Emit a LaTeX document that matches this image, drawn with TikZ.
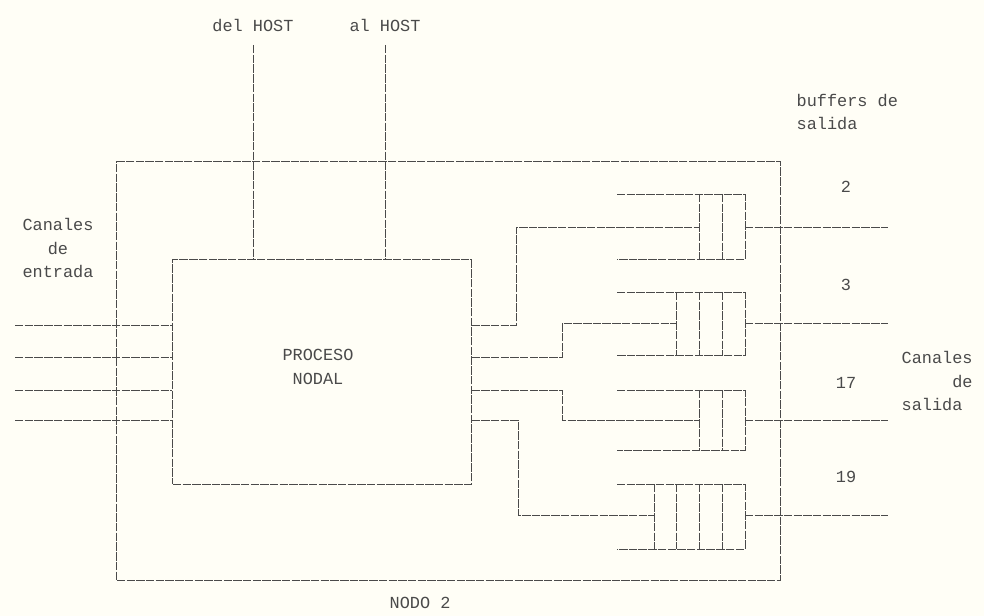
\documentclass[tikz,border=0pt]{standalone}
\usepackage{fontspec}
\setmonofont{Liberation Mono}
\usetikzlibrary{positioning,calc}
\definecolor{paper}{HTML}{FFFEF6}
\definecolor{ink}{HTML}{4A4A4A}
\tikzset{wire/.style={draw=ink,line width=0.7pt,dash pattern=on 6pt off 0.9pt},box/.style={wire,minimum width=#1},lab/.style={text=ink,font=\ttfamily\fontsize{12}{17}\selectfont,inner sep=1pt}}

\begin{document}
\begin{tikzpicture}[x=0.025cm,y=-0.025cm]
\fill[paper] (0,0) rectangle (984,616);
\useasboundingbox (0,0) rectangle (984,616);
\node[box=16.575cm,minimum height=10.45cm] (nodo) at (448.5,371) {};
\node[box=7.45cm,minimum height=5.6cm] (proc) at (322,372) {};
\node[lab,align=center] (proct) at (318,367) {PROCESO\\NODAL};
\node[lab] (nodot) at (420,603) {NODO 2};
% enlaces con el HOST
\node[lab] (dhost) at (253,25) {del HOST};
\node[lab] (ahost) at (385,25) {al HOST};
\coordinate (h1) at (253,45);
\coordinate (h2) at (385,45);
\foreach \n in {h1,h2}{\draw[wire] (\n)--(\n |- proc.north);}
% canales de entrada
\node[lab,align=center] (entt) at (58,248) {Canales\\de\\entrada};
\foreach \n/\y in {1/325,2/357,3/390,4/420}{\coordinate (in\n) at (15,\y); \draw[wire] (in\n)--(in\n -| proc.west);}
% buffers de salida
\node[lab,align=left,anchor=west] (buft) at (795,112) {buffers de\\salida};
\foreach \n/\t/\b/\m/\c/\l in {1/194/259/227/2/2,2/292/355/323/3/3,3/390/450/420/2/17,4/484/549/515/4/19}{
  \draw[wire] (617,\t)--(745,\t)--(745,\b)--(617,\b);
  \foreach \k in {1,...,\c}{\draw[wire] (745-\k*22.75,\t)--(745-\k*22.75,\b);}
  \coordinate (bin\n) at (745-\c*22.75,\m);
  \coordinate (bout\n) at (745,\m);
  \coordinate (out\n) at (888,\m);
  \draw[wire] (bout\n)--(out\n);
  \node[lab] (num\n) at (846,\t-7) {\l};
}
% salidas del proceso nodal
\foreach \n/\y/\d in {1/325/45,2/357/91,3/390/91,4/420/47}{\coordinate (p\n) at (proc.east |- 0,\y); \draw[wire] (p\n)--++(\d,0)|-(bin\n);}
\node[lab,align=left,anchor=west] (salt) at (900,381) {Canales\\\phantom{Canal}de\\salida};
\end{tikzpicture}
\end{document}
